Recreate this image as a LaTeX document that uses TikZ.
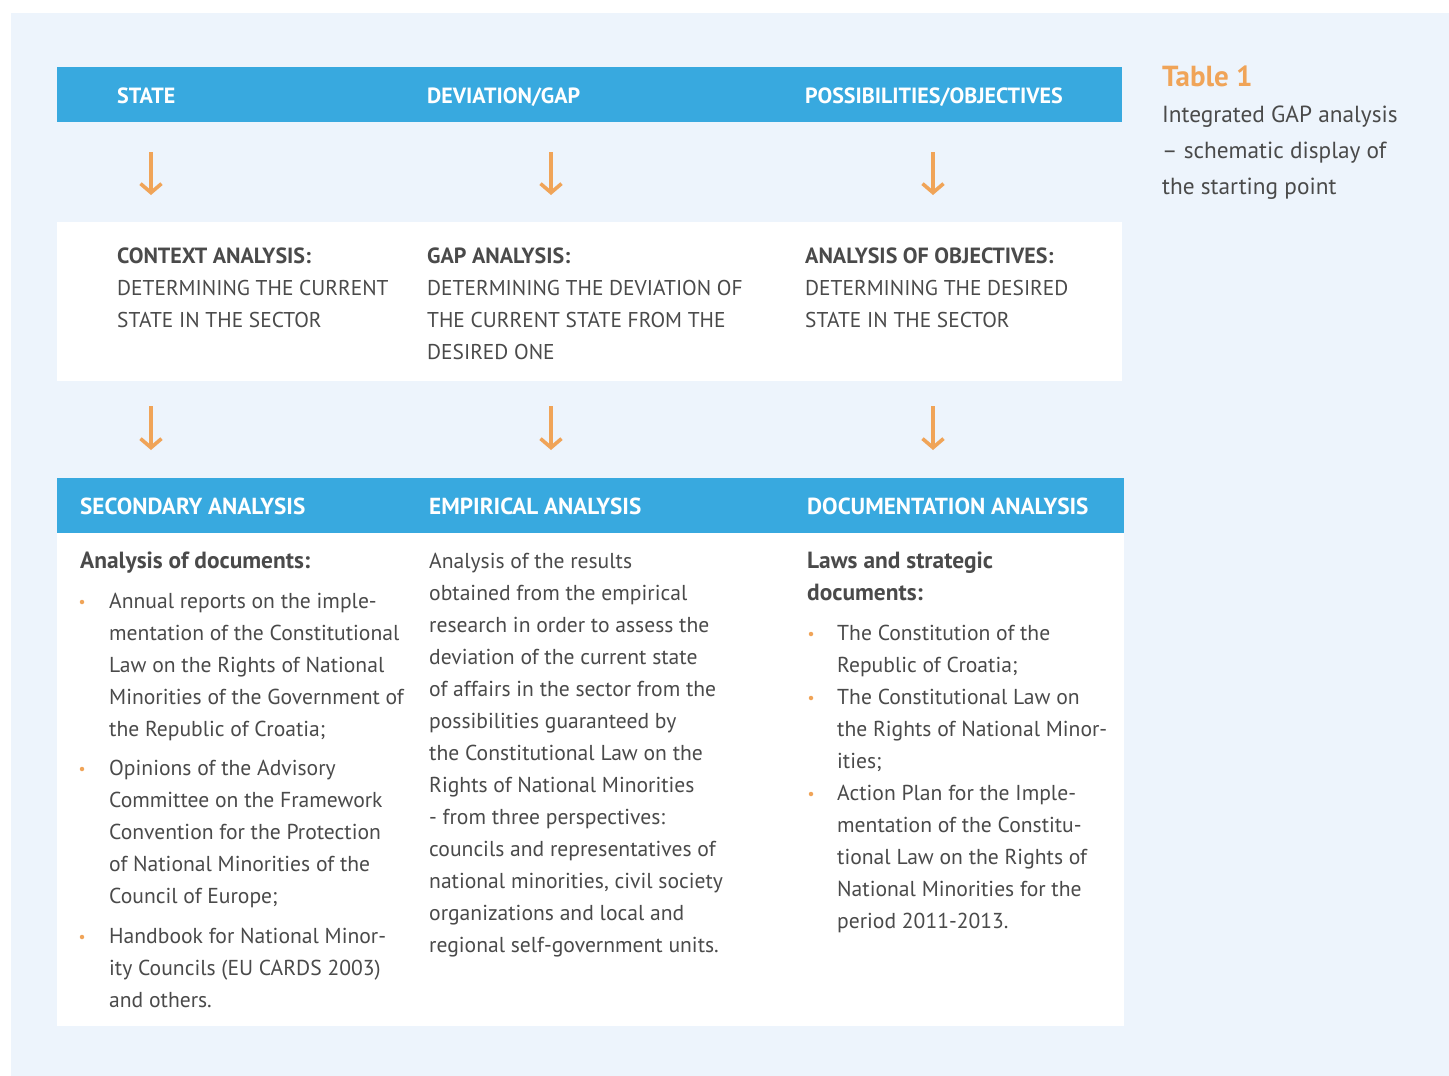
\documentclass[tikz,border=0pt]{standalone}
\usepackage{fontspec}
\setmainfont{PT Sans}
\usetikzlibrary{arrows.meta}
\definecolor{bgc}{HTML}{EDF4FC}
\definecolor{hdrc}{HTML}{38A9DF}
\definecolor{orc}{HTML}{F0A458}
\definecolor{txc}{HTML}{4A4A4A}
\newcommand{\txtblock}[1]{\begin{tabular}[t]{@{}l@{}}#1\end{tabular}}
\tikzset{
  band/.style={fill=hdrc,inner sep=0,outer sep=0,anchor=north west},
  panel/.style={fill=white,inner sep=0,outer sep=0,anchor=north west},
  hdrtext/.style={anchor=base west,inner sep=0,text=white,font=\fontsize{22}{26}\selectfont\bfseries},
  lowhdrtext/.style={anchor=base west,inner sep=0,text=white,font=\fontsize{23.2}{26}\selectfont\bfseries},
  bodytext/.style={anchor=base west,inner sep=0,text=txc,font=\fontsize{21.6}{32}\selectfont},
  capstext/.style={anchor=base west,inner sep=0,text=txc,font=\fontsize{21.4}{32}\selectfont},
  boldtext/.style={anchor=base west,inner sep=0,text=txc,font=\fontsize{22}{32}\selectfont\bfseries},
  boldlower/.style={anchor=base west,inner sep=0,text=txc,font=\fontsize{23.4}{32}\selectfont\bfseries},
  flowarrow/.style={draw=orc,line width=3.6pt,-{Straight Barb[length=9pt,width=21pt,line width=3.6pt]}},
  bulletdot/.style={circle,fill=orc,inner sep=0,minimum size=4.5pt},
}
\begin{document}
\begin{tikzpicture}[x=1pt,y=-1pt]
\useasboundingbox (0,0) rectangle (1449,1076);
\fill[bgc] (11,13) rectangle (1449,1076);
% bands and panels
\node[band,minimum width=1065pt,minimum height=55pt] (topband) at (57,67) {};
\node[panel,minimum width=1065pt,minimum height=159pt] (midpanel) at (57,222) {};
\node[band,minimum width=1067pt,minimum height=55pt] (lowband) at (57,478) {};
\node[panel,minimum width=1067pt,minimum height=493pt] (lowpanel) at (57,533) {};
% header texts
\node[hdrtext] (h1) at (117,103) {STATE};
\node[hdrtext] (h2) at (427,103) {DEVIATION/GAP};
\node[hdrtext] (h3) at (805,103) {POSSIBILITIES/OBJECTIVES};
% arrows
\coordinate (a1s) at (151,152); \coordinate (a1e) at (151,195);
\coordinate (a2s) at (551,152); \coordinate (a2e) at (551,195);
\coordinate (a3s) at (933,152); \coordinate (a3e) at (933,195);
\coordinate (b1s) at (151,406); \coordinate (b1e) at (151,450);
\coordinate (b2s) at (551,406); \coordinate (b2e) at (551,450);
\coordinate (b3s) at (933,406); \coordinate (b3e) at (933,450);
\draw[flowarrow] (a1s) -- (a1e);
\draw[flowarrow] (a2s) -- (a2e);
\draw[flowarrow] (a3s) -- (a3e);
\draw[flowarrow] (b1s) -- (b1e);
\draw[flowarrow] (b2s) -- (b2e);
\draw[flowarrow] (b3s) -- (b3e);
% middle panel texts
\node[boldtext] (m1t) at (117,263) {CONTEXT ANALYSIS:};
\node[capstext] (m1) at (117,295) {\txtblock{DETERMINING THE CURRENT\\STATE IN THE SECTOR}};
\node[boldtext] (m2t) at (427,263) {GAP ANALYSIS:};
\node[capstext] (m2) at (427,295) {\txtblock{DETERMINING THE DEVIATION OF\\THE CURRENT STATE FROM THE\\DESIRED ONE}};
\node[boldtext] (m3t) at (805,263) {ANALYSIS OF OBJECTIVES:};
\node[capstext] (m3) at (805,295) {\txtblock{DETERMINING THE DESIRED\\STATE IN THE SECTOR}};
% lower header texts
\node[lowhdrtext] (l1) at (80,514) {SECONDARY ANALYSIS};
\node[lowhdrtext] (l2) at (429,514) {EMPIRICAL ANALYSIS};
\node[lowhdrtext] (l3) at (807,514) {DOCUMENTATION ANALYSIS};
% left column
\node[boldlower] (c1t) at (80,568) {Analysis of documents:};
\node[bulletdot] (d1) at (82,602) {};
\node[bodytext] (c1a) at (109,608) {\txtblock{Annual reports on the imple-\\mentation of the Constitutional\\Law on the Rights of National\\Minorities of the Government of\\the Republic of Croatia;}};
\node[bulletdot] (d2) at (82,769) {};
\node[bodytext] (c1b) at (109,775) {\txtblock{Opinions of the Advisory\\Committee on the Framework\\Convention for the Protection\\of National Minorities of the\\Council of Europe;}};
\node[bulletdot] (d3) at (82,937) {};
\node[bodytext] (c1c) at (109,943) {\txtblock{Handbook for National Minor-\\ity Councils (EU CARDS 2003)\\and others.}};
% middle column
\node[bodytext] (c2) at (429,568) {\txtblock{Analysis of the results\\obtained from the empirical\\research in order to assess the\\deviation of the current state\\of affairs in the sector from the\\possibilities guaranteed by\\the Constitutional Law on the\\Rights of National Minorities\\- from three perspectives:\\councils and representatives of\\national minorities, civil society\\organizations and local and\\regional self-government units.}};
% right column
\node[boldlower] (c3t) at (807,568) {\txtblock{Laws and strategic\\documents:}};
\node[bulletdot] (e1) at (811,634) {};
\node[bodytext] (c3a) at (837,640) {\txtblock{The Constitution of the\\Republic of Croatia;}};
\node[bulletdot] (e2) at (811,698) {};
\node[bodytext] (c3b) at (837,704) {\txtblock{The Constitutional Law on\\the Rights of National Minor-\\ities;}};
\node[bulletdot] (e3) at (811,794) {};
\node[bodytext] (c3c) at (837,800) {\txtblock{Action Plan for the Imple-\\mentation of the Constitu-\\tional Law on the Rights of\\National Minorities for the\\period 2011-2013.}};
% caption
\node[anchor=base west,inner sep=0,text=orc,font=\fontsize{29}{32}\selectfont\bfseries] (cap1) at (1162,86) {Table 1};
\node[anchor=base west,inner sep=0,text=txc,font=\fontsize{23.3}{36}\selectfont] (cap2) at (1162,122) {\txtblock{Integrated GAP analysis\\– schematic display of\\the starting point}};
\end{tikzpicture}
\end{document}
